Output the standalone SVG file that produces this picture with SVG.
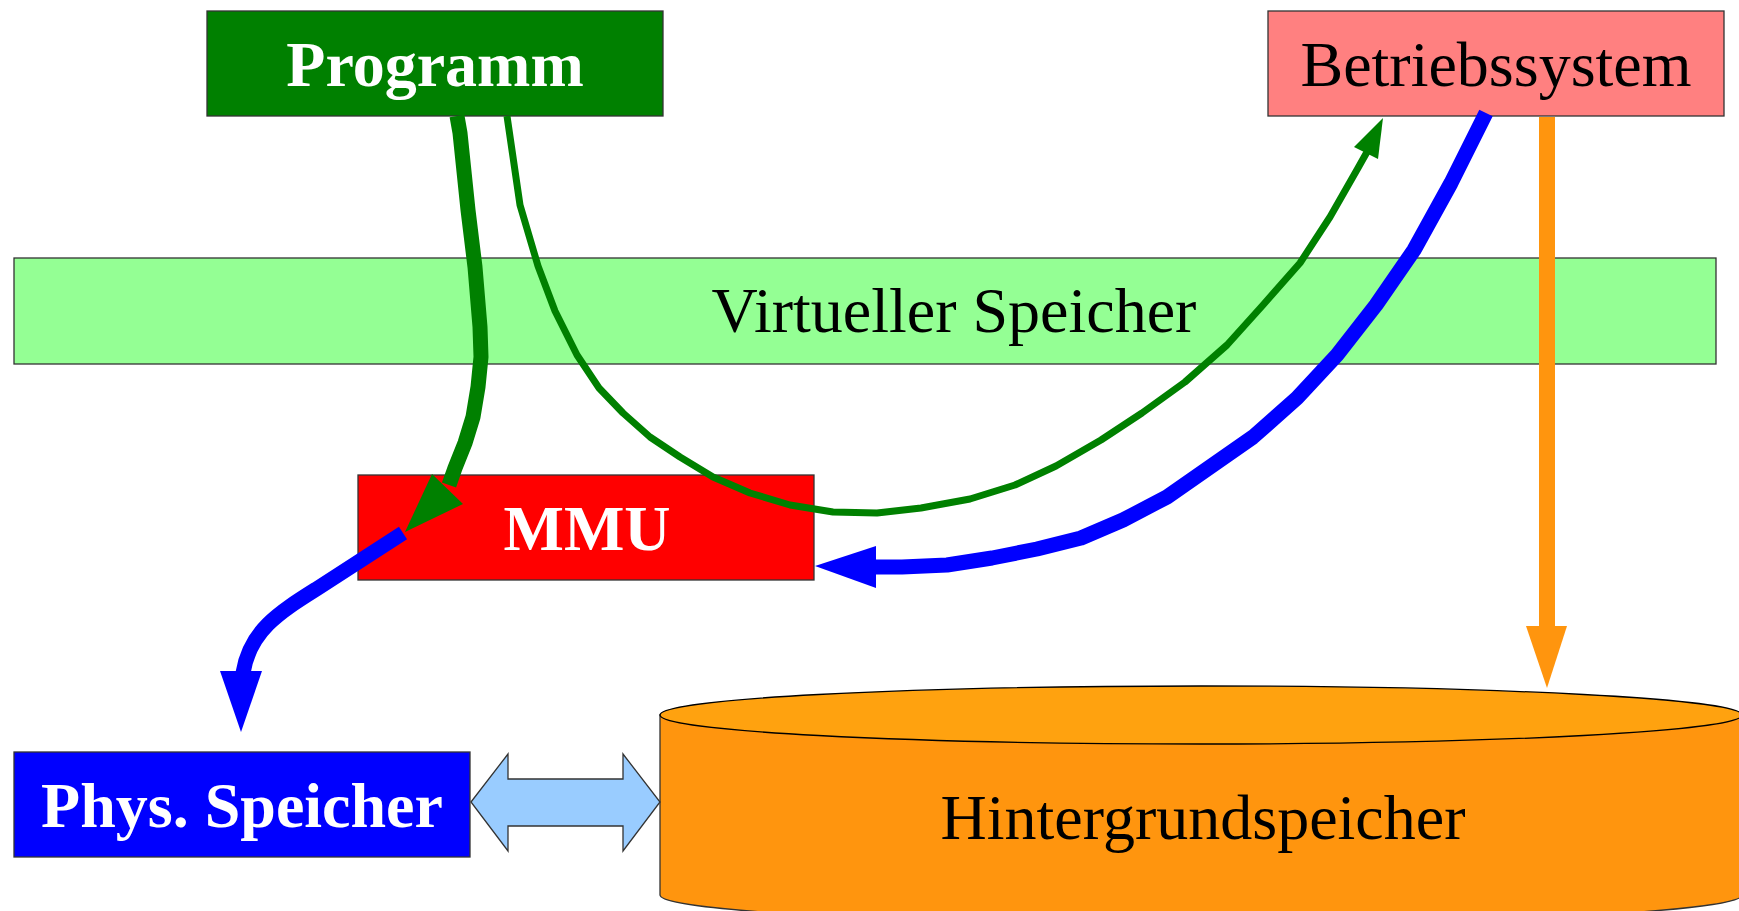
<svg xmlns="http://www.w3.org/2000/svg" width="1739" height="911" viewBox="0 0 1739 911">
<style>
  .box { stroke: #333333; stroke-width: 1.3; }
  .t { font-family: "Liberation Serif", "Times New Roman", serif; font-size: 64px; text-anchor: middle; }
  .tb { font-weight: bold; fill: #ffffff; }
  .tn { fill: #000000; }
  .line { fill: none; stroke-linejoin: round; stroke-linecap: butt; }
  .g { stroke: #008000; }
  .b { stroke: #0000ff; }
  .gf { fill: #008000; }
  .bf { fill: #0000ff; }
  .of { fill: #ff950e; }
</style>
<rect width="1739" height="911" fill="#ffffff"/>

<g id="virtueller-speicher">
  <rect class="box" x="14" y="258" width="1702" height="106" fill="#94ff94" stroke="#000000"/>
  <text class="t tn" x="954" y="332">Virtueller Speicher</text>
</g>

<g id="programm">
  <rect class="box" x="207" y="11" width="456" height="105" fill="#008000"/>
  <text class="t tb" x="435" y="86">Programm</text>
</g>

<g id="betriebssystem">
  <rect class="box" x="1268" y="11" width="456" height="105" fill="#ff8080"/>
  <text class="t tn" x="1496" y="86">Betriebssystem</text>
</g>

<g id="mmu">
  <rect class="box" x="358" y="475" width="456" height="105" fill="#ff0000"/>
  <text class="t tb" x="587" y="550">MMU</text>
</g>

<g id="phys-speicher">
  <rect class="box" x="14" y="752" width="456" height="105" fill="#0000ff"/>
  <text class="t tb" x="242" y="827">Phys. Speicher</text>
</g>

<g id="hintergrundspeicher">
  <path d="M660,715 L660,895 A541,29 0 0 0 1742,895 L1742,715 Z" fill="#ff950e" stroke="#333333" stroke-width="1.3"/>
  <ellipse cx="1201" cy="715" rx="541" ry="29" fill="#ffa20f" stroke="#000000" stroke-width="1.3"/>
  <text class="t tn" x="1203" y="839">Hintergrundspeicher</text>
</g>

<g id="connectors">
  <!-- Programm -> MMU (thick green) -->
  <path class="line g" stroke-width="15" d="M457,116 L460,133 L468,210 L475,267 L480,327 L481,357 L478,387 L473,417 L465,443 L455,468 L449,485"/>
  <polygon class="gf" points="432,474 463,504 405,532"/>

  <!-- Programm -> Betriebssystem (thin green) -->
  <polyline class="line g" stroke-width="7" points="507,116 520,205 538,266 555,311 577,355 599,388 623,413 650,437 680,457 713,477 750,493 790,505 833,512 877,513 921,508 970,499 1015,485 1056,466 1101,440 1142,413 1185,382 1227,345 1263,305 1300,263 1330,217 1358,168 1367,152"/>
  <polygon class="gf" points="1354,147 1378,159 1383,118"/>

  <!-- Betriebssystem -> MMU (thick blue) -->
  <polyline class="line b" stroke-width="15" points="1486,113 1451,183 1414,250 1376,305 1337,355 1297,398 1253,437 1210,467 1167,497 1123,520 1081,538 1037,549 992,558 947,565 902,567 874,567"/>
  <polygon class="bf" points="876,546 876,588 815,566"/>

  <!-- MMU -> Phys. Speicher (thick blue) -->
  <path class="line b" stroke-width="15" d="M403,533 L318,588 C280,612 250,630 243,673"/>
  <polygon class="bf" points="220,671 262,671 241,732"/>

  <!-- Betriebssystem -> Hintergrundspeicher (orange) -->
  <rect class="of" x="1539" y="117" width="16" height="511"/>
  <polygon class="of" points="1526,626 1567,626 1547,688"/>

  <!-- Phys. Speicher <-> Hintergrundspeicher -->
  <polygon points="471,802 508,754 508,779 623,779 623,754 660,802 623,851 623,826 508,826 508,851" fill="#99ccff" stroke="#333333" stroke-width="1.3"/>
</g>
</svg>
